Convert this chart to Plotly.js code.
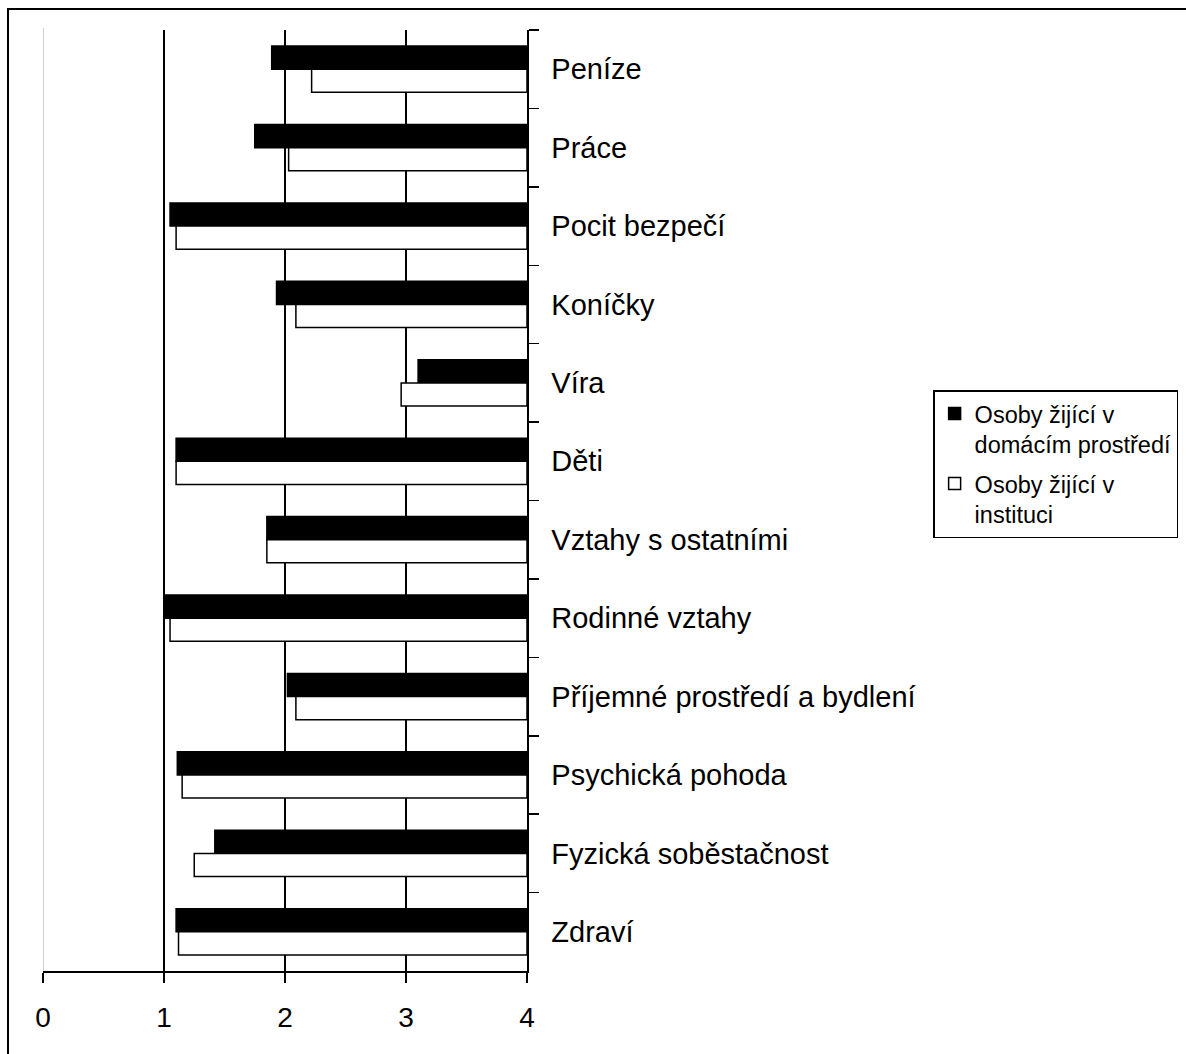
<!DOCTYPE html>
<html><head><meta charset="utf-8">
<script src="https://cdn.plot.ly/plotly-3.0.1.min.js"></script>
<style>
html,body{margin:0;padding:0;overflow:hidden;background:#fff;width:1186px;height:1054px;}
#chart{position:absolute;left:0;top:0;width:1186px;height:1054px;}
#frame{position:absolute;left:7px;top:8px;width:1300px;height:1200px;border:2px solid #000;pointer-events:none;}
</style></head><body>
<div id="chart"></div><div id="frame"></div>
<script>
const categories = ["Peníze","Práce","Pocit bezpečí","Koníčky","Víra","Děti","Vztahy s ostatními","Rodinné vztahy","Příjemné prostředí a bydlení","Psychická pohoda","Fyzická soběstačnost","Zdraví"];
const domaci = [1.89,1.75,1.05,1.93,3.10,1.10,1.85,1.00,2.02,1.11,1.42,1.10];
const instituce = [2.22,2.03,1.10,2.09,2.96,1.10,1.85,1.05,2.09,1.15,1.25,1.12];
const seriesNames = ["Osoby žijící v<br>domácím prostředí","Osoby žijící v<br>instituci"];
const seriesColors = ["#000000","#ffffff"];
const xTicks = [0,1,2,3,4];
const axisEnd = 4;

const FONT = "Arial";

const traces = [domaci, instituce].map((vals, i) => ({
  type: "bar",
  orientation: "h",
  y: categories,
  x: vals.map(v => v - axisEnd),
  base: axisEnd,
  name: seriesNames[i],
  legendgroup: "g" + i,
  marker: {color: seriesColors[i], line: {color: "#000", width: 1.5}},
  hoverinfo: "skip"
}));

const layout = {
  width: 1186, height: 1054,
  margin: {l: 42.5, r: 659.3, t: 30, b: 83.2, autoexpand: false},
  paper_bgcolor: "#fff", plot_bgcolor: "#fff",
  font: {family: FONT, color: "#000"},
  barmode: "group", bargap: 0.41, bargroupgap: 0,
  showlegend: true,
  legend: {
    x: 1.8391, y: 0.6173, xanchor: "left", yanchor: "top",
    bordercolor: "#000", borderwidth: 1.5, bgcolor: "#fff",
    font: {family: FONT, size: 23.5, color: "#000"},
    valign: "top", itemwidth: 30, traceorder: "grouped", tracegroupgap: 6
  },
  xaxis: {
    range: [0, axisEnd], tickvals: xTicks, ticktext: xTicks.map(String),
    showgrid: true, gridcolor: "#000", gridwidth: 1.5, zeroline: false,
    showline: true, linecolor: "#000", linewidth: 1.5,
    ticks: "outside", ticklen: 10, tickwidth: 1.5, tickcolor: "#000",
    tickfont: {family: FONT, size: 28, color: "#000"},
    ticklabelstandoff: 11, fixedrange: true
  },
  yaxis: {
    type: "category", categoryorder: "array", categoryarray: categories,
    autorange: "reversed", side: "right",
    showline: true, linecolor: "#000", linewidth: 1.5,
    ticks: "outside", tickson: "boundaries", ticklen: 10, tickwidth: 1.5, tickcolor: "#000",
    tickfont: {family: FONT, size: 29, color: "#000"},
    ticklabelstandoff: 17, showgrid: false, fixedrange: true
  },
  shapes: [{type: "line", xref: "x", yref: "paper", x0: 0, x1: 0, y0: 0, y1: 1.002,
            line: {color: "#c0c0c0", width: 1.5}, layer: "between"}]
};

Plotly.newPlot("chart", traces, layout, {displayModeBar: false, staticPlot: true});
</script>
</body></html>
